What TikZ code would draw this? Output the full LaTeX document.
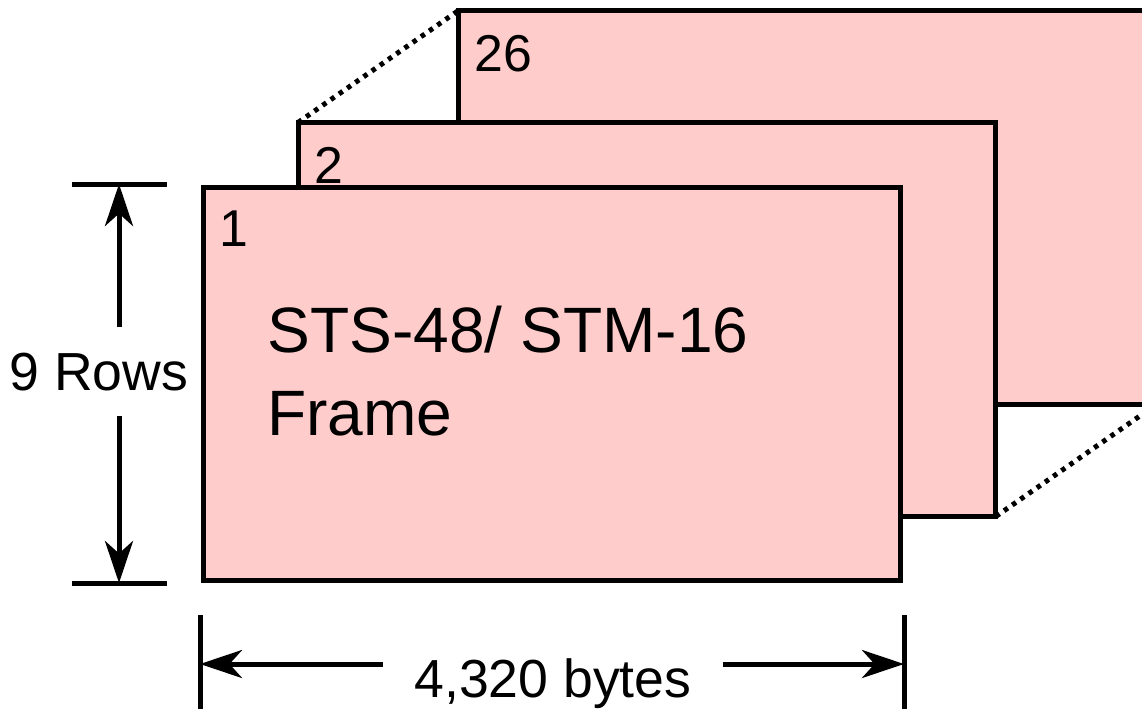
\documentclass[tikz,border=0pt]{standalone}
\usepackage{fontspec}
\setmainfont{Liberation Sans}
\usetikzlibrary{arrows.meta, calc, positioning}
\definecolor{framepink}{RGB}{255,204,204}
\tikzset{>={Stealth[length=0.84cm, width=0.56cm, inset=0.25cm]}}
\tikzset{
  frame/.style={draw, fill=framepink, line width=0.1cm, anchor=north west,
    minimum width=13.96cm, minimum height=7.88cm, inner sep=0pt, outer sep=0pt},
  framenum/.style={anchor=base west, inner sep=0pt, font=\fontsize{29.5}{34}\selectfont},
  frametext/.style={anchor=base west, inner sep=0pt, font=\fontsize{36.5}{44}\selectfont},
  dimtext/.style={anchor=base, inner sep=0pt, font=\fontsize{30.5}{36}\selectfont},
  dimline/.style={line width=0.1cm},
  stackline/.style={line width=0.1cm, dash pattern=on 0.09cm off 0.11cm},
}

\begin{document}
\begin{tikzpicture}[x=0.02cm, y=-0.02cm]
  \useasboundingbox (0, 0) rectangle (1142, 708);
  \clip (0, 0) rectangle (1142, 708);
  % frames, back to front
  \node[frame] (f26) at (458.5, 10.5) {}; %
  \node[frame] (f2) at (298, 122.5) {}; %
  \node[frame] (f1) at (203, 187) {}; %
  \draw[stackline] (f2.north west) -- (f26.north west); %
  \draw[stackline] (f2.south east) -- (f26.south east); %
  % frame numbers
  \node[framenum] (n26) at ($(f26.north west) + (16, 61)$) {26}; %
  \node[framenum] (n2) at ($(f2.north west) + (16, 61)$) {2}; %
  \node[framenum] (n1) at ($(f1.north west) + (16, 59)$) {1}; %
  \node[frametext] (title) at ($(f1.north west) + (64, 165)$) {STS-48/ STM-16}; %
  \node[frametext] (titleb) at ($(title.base west) + (0, 83)$) {Frame}; %
  % rows dimension
  \coordinate (rtop) at (119, 184);
  \coordinate (rbot) at (119, 583);
  \draw[dimline] ([xshift=-0.94cm]rtop) -- ([xshift=0.96cm]rtop); %
  \draw[dimline] ([xshift=-0.94cm]rbot) -- ([xshift=0.96cm]rbot); %
  \node[dimtext, inner ysep=0.5cm] (rows) at (99, 390) {9 Rows}; %
  \draw[dimline, ->] (rows.north -| rtop) -- (rtop); %
  \draw[dimline, ->] (rows.south -| rbot) -- (rbot); %
  % bytes dimension
  \coordinate (bleft) at (200, 664);
  \coordinate (bright) at (904, 664);
  \draw[dimline] ([yshift=0.98cm]bleft) -- ([yshift=-1cm]bleft); %
  \draw[dimline] ([yshift=0.98cm]bright) -- ([yshift=-1cm]bright); %
  \node[dimtext, inner xsep=0.62cm] (bytes) at (553, 697) {4,320 bytes}; %
  \draw[dimline, ->] (bytes.west |- bleft) -- (bleft); %
  \draw[dimline, ->] (bytes.east |- bright) -- (bright); %
\end{tikzpicture}
\end{document}
